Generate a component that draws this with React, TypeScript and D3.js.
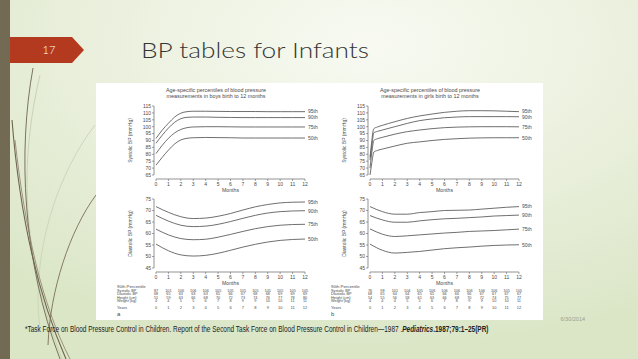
import React from "react";
import * as d3 from "d3";

const W = 638, H = 359;

// ---------- data ----------
const monthTicks = [0, 1, 2, 3, 4, 5, 6, 7, 8, 9, 10, 11, 12];
const percentileLabels = ["95th", "90th", "75th", "50th"];

const boysSysMonths = [0, 0.5, 1, 1.5, 2, 2.5, 3, 4, 5, 6, 7, 8, 9, 10, 11, 12];
const boysSys95 = [91.5, 97.5, 102.5, 107, 109.8, 110.9, 111.2, 111.2, 111.1, 111, 111, 111, 110.9, 110.9, 110.9, 110.9];
const boysSys90 = [88, 93.8, 99, 103.2, 105.8, 106.8, 107, 107, 106.8, 106.7, 106.6, 106.6, 106.6, 106.6, 106.6, 106.6];
const boysSys75 = [80.5, 86.5, 91.6, 95.5, 98, 99.3, 99.8, 100, 100, 99.9, 99.8, 99.8, 99.8, 99.8, 99.8, 99.8];
const boysSys50 = [72.2, 77.8, 83, 87.5, 90.4, 91.6, 92, 92.2, 92.1, 92, 91.8, 91.8, 91.8, 91.8, 91.8, 91.8];

const girlsSysMonths = [0, 0.1, 0.2, 0.3, 0.6, 1, 2, 3, 4, 5, 6, 7, 8, 9, 10, 11, 12];
const girlsSys95 = [78, 86, 94, 98.5, 99.8, 101, 103.6, 106, 107.8, 109.2, 110.4, 111.2, 111.6, 111.6, 111.5, 111.2, 110.9];
const girlsSys90 = [76, 83, 90, 95.5, 96.6, 97.6, 100, 102.4, 104.4, 105.6, 106.5, 107, 107.3, 107.3, 107.3, 107.3, 107.2];
const girlsSys75 = [70, 78, 85, 90, 91.3, 92.3, 94.6, 96.4, 97.6, 98.6, 99.3, 99.7, 99.9, 100, 100, 100, 99.9];
const girlsSys50 = [65, 71, 77, 81.5, 82.8, 83.8, 86, 88, 89, 90, 90.8, 91.3, 91.7, 91.9, 92, 92, 92];

const diaMonths = [0, 1, 2, 3, 4, 5, 6, 7, 8, 9, 10, 11, 12];
const boysDia95 = [71.7, 69.2, 67.3, 66.5, 66.7, 67.5, 68.7, 70.2, 71.6, 72.6, 73.3, 73.6, 73.7];
const boysDia90 = [67.9, 65.4, 63.6, 63.0, 63.2, 64.0, 65.2, 66.6, 67.9, 68.9, 69.5, 69.8, 69.9];
const boysDia75 = [61.9, 59.4, 57.8, 57.3, 57.5, 58.4, 59.6, 60.9, 62.1, 63.0, 63.6, 63.9, 64.0];
const boysDia50 = [55.4, 52.5, 50.7, 50.2, 50.5, 51.4, 52.7, 54.1, 55.3, 56.3, 57.0, 57.4, 57.6];

const girlsDia95 = [71.7, 69.5, 68.4, 68.4, 69.1, 69.5, 70, 70.1, 70.2, 70.6, 71, 71.4, 71.7];
const girlsDia90 = [67.8, 65.9, 64.9, 64.9, 65.5, 66.0, 66.4, 66.6, 66.9, 67.2, 67.6, 67.8, 68];
const girlsDia75 = [62, 59.7, 58.7, 59, 59.4, 59.8, 60.2, 60.5, 60.9, 61.1, 61.3, 61.6, 61.9];
const girlsDia50 = [55.4, 52.7, 51.5, 51.8, 52.2, 52.8, 53.4, 53.8, 54.1, 54.5, 54.8, 55, 55.1];

const sysTicks = [65, 70, 75, 80, 85, 90, 95, 100, 105, 110, 115];
const diaTicks = [45, 50, 55, 60, 65, 70, 75];

const tableRowLabels = ["Systolic BP", "Diastolic BP", "Height (cm)", "Weight (kg)"];
const boysTableSys = [87, 101, 106, 106, 106, 105, 105, 105, 105, 105, 105, 105, 105];
const boysTableDia = [68, 65, 63, 63, 63, 65, 66, 67, 68, 68, 69, 69, 69];
const boysTableHt = [51, 59, 63, 66, 68, 70, 72, 73, 74, 76, 77, 78, 80];
const boysTableWt = [4, 4, 5, 5, 6, 7, 8, 9, 9, 10, 10, 11, 11];
const girlsTableSys = [76, 98, 101, 104, 105, 106, 106, 106, 106, 106, 106, 105, 105];
const girlsTableDia = [68, 65, 64, 64, 65, 65, 66, 66, 66, 67, 67, 67, 67];
const girlsTableHt = [54, 55, 56, 58, 61, 63, 66, 68, 70, 72, 74, 75, 77];
const girlsTableWt = [4, 4, 4, 5, 5, 6, 7, 8, 9, 9, 10, 10, 11];
const yearsRow = [0, 1, 2, 3, 4, 5, 6, 7, 8, 9, 10, 11, 12];

// ---------- style ----------
const INK = "#4a4a4a";
const FONT = "'Liberation Sans', Arial, sans-serif";
const THIN = "'Lato', 'Open Sans', 'DejaVu Sans', sans-serif";

type PanelProps = {
  x0: number;
  title: string[];
  letter: string;
  sysMonths: number[];
  sys: number[][];
  dia: number[][];
  table: number[][];
};

function AxisPlot({ x, y, ticks, months, series, yLabel }: any) {
  const line = d3.line<[number, number]>().x(d => x(d[0])).y(d => y(d[1])).curve(d3.curveMonotoneX);
  const [ymin, ymax] = y.domain();
  const yTop = y(ymax), yBot = y(ymin);
  const axX = x(0) - 2;
  const axY = yBot + 4;
  return (
    <g>
      <line x1={axX} x2={axX} y1={yTop} y2={yBot} stroke={INK} strokeWidth={0.6} />
      {ticks.map((t: number) => (
        <g key={t}>
          <line x1={axX - 2} x2={axX} y1={y(t)} y2={y(t)} stroke={INK} strokeWidth={0.5} />
          <text x={axX - 3} y={y(t) + 1.8} fontSize={5} textAnchor="end" fill={INK} fontFamily={FONT}>{t}</text>
        </g>
      ))}
      <line x1={x(0)} x2={x(12)} y1={axY} y2={axY} stroke={INK} strokeWidth={0.6} />
      {monthTicks.map(m => (
        <g key={m}>
          <line x1={x(m)} x2={x(m)} y1={axY} y2={axY + 2} stroke={INK} strokeWidth={0.5} />
          <text x={x(m)} y={axY + 7} fontSize={5} textAnchor="middle" fill={INK} fontFamily={FONT}>{m}</text>
        </g>
      ))}
      <text x={x(6)} y={axY + 12.5} fontSize={5.2} textAnchor="middle" fill={INK} fontFamily={FONT}>Months</text>
      <text transform={`translate(${x(0) - 24},${(yTop + yBot) / 2}) rotate(-90)`} fontSize={5} textAnchor="middle" fill={INK} fontFamily={FONT}>{yLabel}</text>
      {series.map((s: number[], i: number) => {
        const pts: [number, number][] = months.map((m: number, j: number) => [m, s[j]]);
        return (
          <g key={i}>
            <path d={line(pts) || ""} fill="none" stroke="#555" strokeWidth={0.85} />
            <text x={x(12) + 3} y={y(s[s.length - 1]) + 1.8} fontSize={5} fill={INK} fontFamily={FONT}>{percentileLabels[i]}</text>
          </g>
        );
      })}
    </g>
  );
}

function Panel({ x0, title, letter, sysMonths, sys, dia, table }: PanelProps) {
  const x = d3.scaleLinear().domain([0, 12]).range([x0, x0 + 149]);
  const ySys = d3.scaleLinear().domain([65, 115]).range([175, 106]);
  const yDia = d3.scaleLinear().domain([45, 75]).range([268, 199]);
  const lx = x0 - 39;
  const rowYs = [291.5, 295, 298.5, 302];
  return (
    <g>
      <text x={x0 + 60} y={92} fontSize={5.4} textAnchor="middle" fill={INK} fontFamily={FONT}>{title[0]}</text>
      <text x={x0 + 60} y={98} fontSize={5.4} textAnchor="middle" fill={INK} fontFamily={FONT}>{title[1]}</text>
      <AxisPlot x={x} y={ySys} ticks={sysTicks} months={sysMonths} series={sys} yLabel="Systolic BP (mmHg)" />
      <AxisPlot x={x} y={yDia} ticks={diaTicks} months={diaMonths} series={dia} yLabel="Diastolic BP (mmHg)" />
      <text x={lx} y={287.5} fontSize={4.3} fill={INK} fontFamily={FONT}>90th Percentile</text>
      {tableRowLabels.map((lab, i) => (
        <g key={lab}>
          <text x={lx} y={rowYs[i]} fontSize={3.8} fill={INK} fontFamily={FONT}>{lab}</text>
          {table[i].map((v, j) => (
            <text key={j} x={x(j)} y={rowYs[i]} fontSize={3.8} textAnchor="middle" fill={INK} fontFamily={FONT}>{v}</text>
          ))}
        </g>
      ))}
      <text x={lx} y={308.5} fontSize={4} fill={INK} fontFamily={FONT}>Years</text>
      {yearsRow.map((v, j) => (
        <text key={j} x={x(j)} y={308.5} fontSize={4} textAnchor="middle" fill={INK} fontFamily={FONT}>{v}</text>
      ))}
      <text x={lx} y={315.5} fontSize={6} fill={INK} fontFamily={FONT}>{letter}</text>
    </g>
  );
}

export default function App() {
  return (
    <svg width={W} height={H} style={{ position: "absolute", left: 0, top: 0, display: "block" }}>
      <defs>
        <radialGradient id="bg" cx="0.58" cy="0.12" r="0.85">
          <stop offset="0" stopColor="#f8faf2" />
          <stop offset="0.55" stopColor="#e9efdb" />
          <stop offset="1" stopColor="#dbe6c7" />
        </radialGradient>
      </defs>
      <rect x={0} y={0} width={W} height={H} fill="url(#bg)" />

      {/* decorative swooshes */}
      <g fill="none">
        <path d="M40,75 C20,160 20,250 62,359" stroke="#c9d3b4" strokeWidth={1} />
        <path d="M95,125 C60,170 30,250 40,330" stroke="#cdd7ba" strokeWidth={1} />
        <path d="M33,68 C18,150 22,260 60,359" stroke="#6e6450" strokeWidth={0.9} />
        <path d="M12,120 C20,220 40,300 66,359" stroke="#6e6450" strokeWidth={1.1} />
        <path d="M15,140 C25,230 42,305 70,359" stroke="#8a7f66" strokeWidth={0.8} />
        <path d="M96,195 C70,230 50,290 48,345" stroke="#7a6e55" strokeWidth={0.9} />
      </g>

      {/* left bar */}
      <rect x={0} y={0} width={10} height={H} fill="#736a54" />

      {/* slide number tag */}
      <path d="M10,37 L72,37 L84,50 L72,63 L10,63 Z" fill="#b33a1e" />
      <text x={49} y={54} fontSize={11} fill="#ffffff" textAnchor="middle" fontFamily={THIN} fontWeight={300}>17</text>

      {/* title */}
      <text x={141} y={58} fontSize={22} fill="#353535" fontFamily={THIN} fontWeight={300} textLength={228} lengthAdjust="spacingAndGlyphs">BP tables for Infants</text>

      {/* white figure area */}
      <rect x={96} y={83} width={447} height={237} fill="#ffffff" />

      <Panel
        x0={156}
        title={["Age-specific percentiles of blood pressure", "measurements in boys birth to 12 months"]}
        letter="a"
        sysMonths={boysSysMonths}
        sys={[boysSys95, boysSys90, boysSys75, boysSys50]}
        dia={[boysDia95, boysDia90, boysDia75, boysDia50]}
        table={[boysTableSys, boysTableDia, boysTableHt, boysTableWt]}
      />
      <Panel
        x0={370}
        title={["Age-specific percentiles of blood pressure", "measurements in girls birth to 12 months"]}
        letter="b"
        sysMonths={girlsSysMonths}
        sys={[girlsSys95, girlsSys90, girlsSys75, girlsSys50]}
        dia={[girlsDia95, girlsDia90, girlsDia75, girlsDia50]}
        table={[girlsTableSys, girlsTableDia, girlsTableHt, girlsTableWt]}
      />

      {/* date */}
      <text x={585} y={321} fontSize={5.5} fill="#9aa090" textAnchor="end" fontFamily={FONT}>6/30/2014</text>

      {/* footnote */}
      <g transform="translate(25,332) scale(0.79,1)">
        <text x={0} y={0} fontSize={8.2} fill="#222" fontFamily={FONT}>
          <tspan>*Task Force on Blood Pressure Control in Children. Report of the Second Task Force on Blood Pressure Control in Children—1987 .</tspan>
          <tspan fontWeight="bold" fontStyle="italic">Pediatrics</tspan>
          <tspan fontWeight="bold">.1987;79:1–25(PR)</tspan>
        </text>
      </g>
    </svg>
  );
}
